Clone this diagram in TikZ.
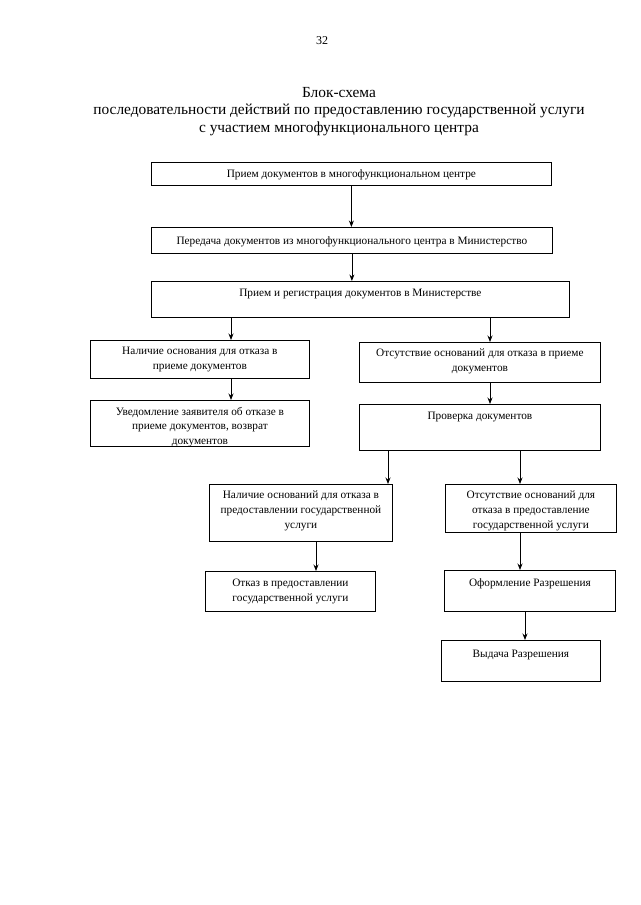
\documentclass[tikz,border=0pt]{standalone}
\usepackage{fontspec}
\setmainfont{Liberation Serif}
\usetikzlibrary{arrows.meta,calc}
\begin{document}
\begin{tikzpicture}[x=1pt,y=-1pt,
  box/.style={draw, line width=0.8pt, inner sep=0pt, anchor=north west},
  txt/.style={font=\fontsize{11.3}{14.6}\selectfont, align=center, inner sep=0pt, anchor=north},
  ttl/.style={font=\fontsize{15.4}{17.6}\selectfont, align=center, inner sep=0pt, anchor=north},
  arr/.style={-{Stealth[length=6.5pt,width=5pt]}, line width=0.8pt}]
\useasboundingbox (0,0) rectangle (640,905);
\node[font=\fontsize{12}{14}\selectfont, inner sep=0pt] (pg) at (322,41) {32};
\node[ttl] (title) at (339,87) {Блок-схема\\последовательности действий по предоставлению государственной услуги\\с участием многофункционального центра};
% boxes
\node[box, minimum width=400pt, minimum height=23pt] (b1) at (151,162) {};
\node[box, minimum width=401pt, minimum height=26pt] (b2) at (151,227) {};
\node[box, minimum width=418pt, minimum height=36pt] (b3) at (151,281) {};
\node[box, minimum width=219pt, minimum height=38pt] (b4) at (90,340) {};
\node[box, minimum width=219pt, minimum height=46pt] (b5) at (90,400) {};
\node[box, minimum width=241pt, minimum height=40pt] (b6) at (359,342) {};
\node[box, minimum width=241pt, minimum height=46pt] (b7) at (359,404) {};
\node[box, minimum width=183pt, minimum height=57pt] (b8) at (209,484) {};
\node[box, minimum width=170pt, minimum height=40pt] (b9) at (205,571) {};
\node[box, minimum width=171pt, minimum height=48pt] (b10) at (445,484) {};
\node[box, minimum width=171pt, minimum height=41pt] (b11) at (444,570) {};
\node[box, minimum width=159pt, minimum height=41pt] (b12) at (441,640) {};
% texts
\node[txt] (t1) at ($(b1.north)+(0,7.5)$) {Прием документов в многофункциональном центре};
\node[txt] (t2) at ($(b2.north)+(0,9.5)$) {Передача документов из многофункционального центра в Министерство};
\node[txt] (t3) at ($(b3.north)+(0,8)$) {Прием и регистрация документов в Министерстве};
\node[txt] (t4) at ($(b4.north)+(0,7)$) {Наличие основания для отказа в\\приеме документов};
\node[txt] (t5) at ($(b5.north)+(0,7)$) {Уведомление заявителя об отказе в\\приеме документов, возврат\\документов};
\node[txt] (t6) at ($(b6.north)+(0,7)$) {Отсутствие оснований для отказа в приеме\\документов};
\node[txt] (t7) at ($(b7.north)+(0,8)$) {Проверка документов};
\node[txt] (t8) at ($(b8.north)+(0,7)$) {Наличие оснований для отказа в\\предоставлении государственной\\услуги};
\node[txt] (t9) at ($(b9.north)+(0,8)$) {Отказ в предоставлении\\государственной услуги};
\node[txt] (t10) at ($(b10.north)+(0,7)$) {Отсутствие оснований для\\отказа в предоставление\\государственной услуги};
\node[txt] (t11) at ($(b11.north)+(0,8)$) {Оформление Разрешения};
\node[txt] (t12) at ($(b12.north)+(0,10)$) {Выдача Разрешения};
% connectors
\draw[arr] (b1.south) -- (b1.south |- b2.north);
\draw[arr] (b2.south) -- (b2.south |- b3.north);
\coordinate (a34) at ([xshift=80pt]b3.south west);
\draw[arr] (a34) -- (a34 |- b4.north);
\coordinate (a36) at ([xshift=339pt]b3.south west);
\draw[arr] (a36) -- (a36 |- b6.north);
\coordinate (a45) at ([xshift=141pt]b4.south west);
\draw[arr] (a45) -- (a45 |- b5.north);
\coordinate (a67) at ([xshift=131pt]b6.south west);
\draw[arr] (a67) -- (a67 |- b7.north);
\coordinate (a78) at ([xshift=29pt]b7.south west);
\draw[arr] (a78) -- (a78 |- b8.north);
\coordinate (a710) at ([xshift=161pt]b7.south west);
\draw[arr] (a710) -- (a710 |- b10.north);
\coordinate (a89) at ([xshift=107pt]b8.south west);
\draw[arr] (a89) -- (a89 |- b9.north);
\coordinate (a1011) at ([xshift=75pt]b10.south west);
\draw[arr] (a1011) -- (a1011 |- b11.north);
\coordinate (a1112) at ([xshift=81pt]b11.south west);
\draw[arr] (a1112) -- (a1112 |- b12.north);
\end{tikzpicture}
\end{document}
